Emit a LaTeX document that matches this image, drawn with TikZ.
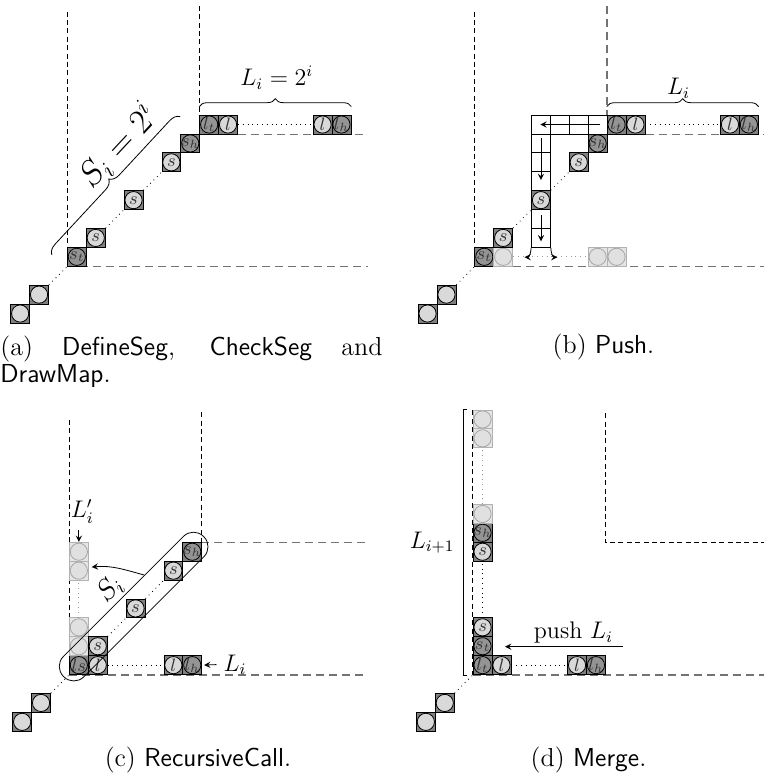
\documentclass[tikz,border=0pt]{standalone}
\usepackage{amsmath,amssymb}
\usetikzlibrary{calc,decorations.pathreplacing}

\tikzset{
  cell/.style={draw, fill=black!50, minimum size=9.45pt, inner sep=0pt, anchor=south west,
    text=black!80, font=\fontsize{9}{10}\selectfont,
    path picture={\draw[fill=#1] (path picture bounding box.center) circle (4.3pt);}},
  lcell/.style={cell=black!15},
  dcell/.style={cell=black!42},
  fcell/.style={draw=black!30, fill=black!10, minimum size=9.45pt, inner sep=0pt, anchor=south west,
    path picture={\draw[black!35, fill=black!12] (path picture bounding box.center) circle (4.3pt);}},
  ecell/.style={draw, fill=white, minimum size=9.45pt, inner sep=0pt, anchor=south west},
  vline/.style={dash pattern=on 2.5pt off 1.7pt, line width=0.4pt},
  hline/.style={black!55, dash pattern=on 4pt off 2.5pt, line width=0.8pt},
  brace/.style={decorate, decoration={brace, amplitude=#1}},
  brace/.default=4pt,
  lbl/.style={font=\fontsize{12}{14}\selectfont},
  capt/.style={font=\fontsize{13}{11.5}\selectfont},
}

\begin{document}
\begin{tikzpicture}[>=stealth, x=9.45pt, y=9.45pt]
  \useasboundingbox (0pt,0pt) rectangle (382pt,389.5pt);

  % (a) DefineSeg, CheckSeg, DrawMap
  \begin{scope}[shift={(33.5pt,256.15pt)}]
    \draw[vline] (0,13.5) -- (0,0);
    \draw[vline] (7,13.8) -- (7,7);
    \draw[hline] (0,0) -- (15.9,0);
    \draw[hline] (7,7) -- (15.9,7);
    \node[lcell] (a-m3) at (-3,-3) {};
    \node[lcell] (a-m2) at (-2,-2) {};
    \node[dcell] (a-st) at (0,0) {$s_t$};
    \node[lcell] (a-s1) at (1,1) {$s$};
    \node[lcell] (a-s3) at (3,3) {$s$};
    \node[lcell] (a-s5) at (5,5) {$s$};
    \node[dcell] (a-sh) at (6,6) {$s_h$};
    \node[dcell] (a-lt) at (7,7) {$l_t$};
    \node[lcell] (a-l1) at (8,7) {$l$};
    \node[lcell] (a-l13) at (13,7) {$l$};
    \node[dcell] (a-lh) at (14,7) {$l_h$};
    \draw[dotted] (a-m2.north east) -- (a-st.south west);
    \draw[dotted] (a-s1.north east) -- (a-s3.south west);
    \draw[dotted] (a-s3.north east) -- (a-s5.south west);
    \draw[dotted] (a-l1.east) -- (a-l13.west);
    \draw[brace] ([yshift=4pt]a-lt.north west) -- ([yshift=4pt]a-lh.north east);
    \node[lbl] (a-Li) at (11.1,10.0) {$L_i = 2^i$};
    \coordinate (a-b0) at (-0.8,0.62);
    \coordinate (a-b1) at (6.0,7.95);
    \draw[brace=5pt] (a-b0) -- (a-b1);
    \node[rotate=47, font=\fontsize{17}{20}\selectfont] (a-Si) at (2.7,6.4) {$S_i = 2^i$};
  \end{scope}

  % (b) Push
  \begin{scope}[shift={(237.2pt,256.15pt)}]
    \draw[vline] (0,13.5) -- (0,0);
    \draw[hline] (7,13.8) -- (7,7);
    \draw[hline] (0,0) -- (15.3,0);
    \draw[hline] (7,7) -- (15.3,7);
    \node[lcell] (b-m3) at (-3,-3) {};
    \node[lcell] (b-m2) at (-2,-2) {};
    \node[dcell] (b-st) at (0,0) {$s_t$};
    \node[fcell] (b-f1) at (1,0) {};
    \node[fcell] (b-f6) at (6,0) {};
    \node[fcell] (b-f7) at (7,0) {};
    \node[lcell] (b-s1) at (1,1) {$s$};
    \node[ecell] (b-v1) at (3,1) {};
    \node[ecell] (b-v2) at (3,2) {};
    \node[lcell] (b-s3) at (3,3) {$s$};
    \node[ecell] (b-v4) at (3,4) {};
    \node[ecell] (b-v5) at (3,5) {};
    \node[ecell] (b-v6) at (3,6) {};
    \node[ecell] (b-h3) at (3,7) {};
    \node[ecell] (b-h4) at (4,7) {};
    \node[ecell] (b-h5) at (5,7) {};
    \node[ecell] (b-h6) at (6,7) {};
    \node[lcell] (b-s5) at (5,5) {$s$};
    \node[dcell] (b-sh) at (6,6) {$s_h$};
    \node[dcell] (b-lt) at (7,7) {$l_t$};
    \node[lcell] (b-l1) at (8,7) {$l$};
    \node[lcell] (b-l13) at (13,7) {$l$};
    \node[dcell] (b-lh) at (14,7) {$l_h$};
    \draw[dotted] (b-m2.north east) -- (b-st.south west);
    \draw[dotted] (b-s1.north east) -- (b-s3.south west);
    \draw[dotted] (b-s3.north east) -- (b-s5.south west);
    \draw[dotted] (b-l1.east) -- (b-l13.west);
    \draw[dotted, black!40] (b-f1.east) -- (b-f6.west);
    \draw[->] ([xshift=1.3pt]b-h6.center) -- ([xshift=-0.3pt]b-h3.center);
    \draw[->] ([yshift=2.5pt]b-v6.center) -- ([yshift=0.6pt]b-v4.center);
    \draw[->] ([yshift=2pt]b-v2.center) -- ([yshift=-1.7pt]b-v1.center);
    \draw[->] (b-v1.south west) to[out=-90,in=0] ++(-0.35,-0.5);
    \draw[->] (b-v1.south east) to[out=-90,in=180] ++(0.35,-0.5);
    \draw[brace] ([yshift=4pt]b-lt.north west) -- ([yshift=4pt]b-lh.north east);
    \node[lbl] (b-Li) at (10.8,9.45) {$L_i$};
  \end{scope}

  % (c) RecursiveCall
  \begin{scope}[shift={(34.5pt,52pt)}]
    \draw[vline] (0,13.5) -- (0,0);
    \draw[vline] (7,13.9) -- (7,7);
    \draw[hline] (0,0) -- (15.8,0);
    \draw[hline] (7,7) -- (15.8,7);
    \node[lcell] (c-m3) at (-3,-3) {};
    \node[lcell] (c-m2) at (-2,-2) {};
    \node[dcell] (c-ls) at (0,0) {$ls$};
    \node[lcell] (c-l1) at (1,0) {$l$};
    \node[lcell] (c-l5) at (5,0) {$l$};
    \node[dcell] (c-lh) at (6,0) {$l_h$};
    \node[fcell] (c-f1) at (0,1) {};
    \node[fcell] (c-f2) at (0,2) {};
    \node[fcell] (c-f5) at (0,5) {};
    \node[fcell] (c-f6) at (0,6) {};
    \node[lcell] (c-s1) at (1,1) {$s$};
    \node[lcell] (c-s3) at (3,3) {$s$};
    \node[lcell] (c-s5) at (5,5) {$s$};
    \node[dcell] (c-sh) at (6,6) {$s_h$};
    \draw[dotted] (c-m2.north east) -- (c-ls.south west);
    \draw[dotted] (c-s1.north east) -- (c-s3.south west);
    \draw[dotted] (c-s3.north east) -- (c-s5.south west);
    \draw[dotted] (c-l1.east) -- (c-l5.west);
    \draw[dotted, black!40] (c-f2.north) -- (c-f5.south);
    \node[draw, rounded corners=7pt, rotate=45, minimum width=99pt, minimum height=14.4pt] (c-seg) at (3.42,3.62) {};
    \draw[->] ($(c-seg.north)!0.3!(c-seg.north east)$) to[out=165,in=5] ([xshift=1.5pt]c-f5.20);
    \node[rotate=45, font=\fontsize{14}{16}\selectfont] (c-Si) at (2.17,4.55) {$S_i$};
    \node[lbl] (c-Lp) at (0.7,8.65) {$L'_i$};
    \draw[->] (c-Lp.south -| c-f6.north) -- (c-f6.north);
    \node[lbl] (c-Li) at (8.78,0.55) {$L_i$};
    \draw[<-, shorten <=1pt] (c-lh.east) -- (c-Li.west);
  \end{scope}

  % (d) Merge
  \begin{scope}[shift={(236.35pt,52pt)}]
    \draw[vline] (0,14) -- (0,0);
    \draw[vline] (7,13.85) -- (7,7) -- (15.4,7);
    \draw[hline] (0,0) -- (15.4,0);
    \node[lcell] (d-m3) at (-3,-3) {};
    \node[lcell] (d-m2) at (-2,-2) {};
    \node[dcell] (d-lt) at (0,0) {$l_t$};
    \node[lcell] (d-l1) at (1,0) {$l$};
    \node[lcell] (d-l5) at (5,0) {$l$};
    \node[dcell] (d-lh) at (6,0) {$l_h$};
    \node[dcell] (d-st) at (0,1) {$s_t$};
    \node[lcell] (d-s2) at (0,2) {$s$};
    \node[lcell] (d-s6) at (0,6) {$s$};
    \node[dcell] (d-sh) at (0,7) {$s_h$};
    \node[fcell] (d-f8) at (0,8) {};
    \node[fcell] (d-f12) at (0,12) {};
    \node[fcell] (d-f13) at (0,13) {};
    \draw[dotted] (d-m2.north east) -- (d-lt.south west);
    \draw[dotted] (d-l1.east) -- (d-l5.west);
    \draw[dotted] (d-s2.north) -- (d-s6.south);
    \draw[dotted, black!40] (d-f8.north) -- (d-f12.south);
    \draw (-0.3,14.05) -- (-0.5,14.05) -- (-0.5,0) -- (-0.3,0);
    \node[lbl, anchor=east] (d-Lnext) at (-0.6,7) {$L_{i+1}$};
    \coordinate (d-from) at (7.94,1.5);
    \coordinate (d-to) at (1.71,1.5);
    \draw[->] (d-from) -- (d-to);
    \node[lbl] (d-push) at (5.33,2.25) {push $L_i$};
  \end{scope}

  % captions
  \node[capt, text width=191pt, align=justify, anchor=north west, inner sep=0pt] (capA) at (0pt,221.5pt)
    {(a) \textsf{DefineSeg}, \textsf{CheckSeg} and\linebreak \textsf{DrawMap}.};
  \node[capt, anchor=base] (capB) at (301.75pt,212.5pt) {(b) \textsf{Push}.};
  \node[capt, anchor=base] (capC) at (99pt,6pt) {(c) \textsf{RecursiveCall}.};
  \node[capt, anchor=base] (capD) at (294.25pt,6pt) {(d) \textsf{Merge}.};
\end{tikzpicture}
\end{document}
